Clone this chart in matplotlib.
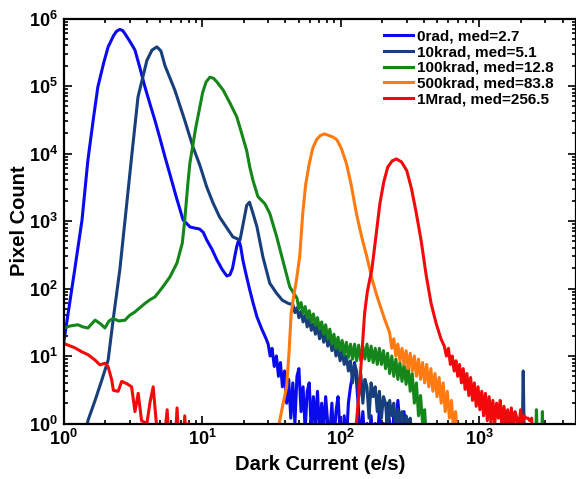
import numpy as np
import matplotlib
matplotlib.use("Agg")
import matplotlib.pyplot as plt

plt.rcParams['font.family'] = ['Liberation Sans', 'DejaVu Sans']
plt.rcParams['font.weight'] = 'bold'
plt.rcParams['mathtext.fontset'] = 'custom'
plt.rcParams['mathtext.rm'] = 'Liberation Sans:bold'
plt.rcParams['mathtext.bf'] = 'Liberation Sans:bold'
plt.rcParams['mathtext.it'] = 'Liberation Sans:bold'

# histogram bin centres used for the noisy tails (e/s)
tail_bins = [30, 31, 32, 33.2, 34.4, 35.6, 36.8, 38, 39.4, 40.8, 42.2, 43.7, 45.2, 46.8, 48.4,
             50, 51.8, 53.6, 55.5, 57.4, 59.4, 61.5, 63.6, 65.8, 68.1, 70.5, 73, 75.5, 78, 80.8,
             83.6, 86.5, 89.5, 92.6, 95.8, 99.2, 102.6, 106.2, 110, 113.8, 117.8, 121.9, 126.1,
             130.5, 135, 139.8, 144.7, 149.7, 155, 160.4, 166, 171.8, 177.8, 184, 190.5, 197,
             204, 211, 218.4, 226, 234, 242, 250.5, 259, 268, 277.5, 287, 297, 307.5, 318, 329,
             340.5, 352.5, 365, 377.5, 390.5, 404, 418, 433, 448, 463.5, 480, 496.5, 514, 532,
             550, 569, 589, 610, 631, 653, 676, 699.5]

# 0rad, med=2.7
x_0rad = [1.0, 1.1, 1.2, 1.3, 1.36, 1.5, 1.65, 1.77, 1.95, 2.1, 2.3, 2.42, 2.55, 2.68, 2.8, 3.05,
          3.28, 3.55, 3.87, 4.2, 4.57, 5.0, 5.4, 5.9, 6.5, 7.3, 8.2, 9.0, 9.6, 10.2, 10.8, 11.8,
          12.8, 14.0, 15.1, 15.9, 16.6, 17.2, 17.8, 18.4, 19.0, 19.7, 20.8, 22.1, 23.4, 24.9,
          27.0, 29.0] + tail_bins[0:71]
y_0rad = [15, 55, 180, 550, 1030, 8000, 3.5e4, 9.7e4, 2.2e5, 3.8e5, 5.6e5, 6.5e5, 6.9e5, 6.6e5, 5.8e5, 4.4e5,
          3.4e5, 1.9e5, 9.7e4, 5.5e4, 3.1e4, 1.6e4, 8900, 4700, 2300, 1035, 815, 780, 760, 680, 525, 380,
          265, 190, 153, 160, 200, 293, 420, 525, 420, 265, 160, 95, 60, 38,
          25, 18,
          15, 10, 13, 7, 10, 5, 8, 3.5, 6, 2,
          4.5, 1.2, 4, 1, 5, 6.5, 1.5, 3.5, 0.8, 3,
          4, 0.7, 2.5, 1, 3, 0.7, 2, 0.8, 2.5, 1,
          0.7, 2, 0.5, 1.5, 2.5, 0.7, 0.5, 1.3, 0.5, 2,
          3.5, 5, 8, 4, 1.5, 0.5, 1.5, 0.5, 1, 0.5,
          1.3, 0.5, 1, 0.5, 1.7, 0.5, 1, 0.5, 2, 1,
          0.5, 1.3, 1, 2.2, 1, 0.5, 1.5, 0.5, 1, 0.5, 0.5]

# 10krad, med=5.1
x_10k = [1.45, 1.5, 1.69, 1.89, 2.1, 2.28, 2.55, 2.78, 3.12, 3.45, 4.0, 4.35, 4.72, 5.05, 5.4,
         6.36, 7.5, 8.6, 9.64, 10.8, 12.0, 13.4, 15.1, 16.7, 18.8, 21.0, 22.0, 23.3, 24.9,
         27.5, 30.8, 34.5, 38, 42] + tail_bins[12:71] + [2040, 2080, 2120]
y_10k = [0.7, 1.1, 2.2, 4.4, 8.7, 34, 190, 1030, 1e4, 6.9e4, 2.4e5, 3.4e5, 3.8e5, 3.3e5, 2.0e5,
         8.7e4, 3.1e4, 1.25e4, 6700, 3200, 1850, 1140, 790, 580, 525, 1700, 1900, 1300, 820,
         293, 120, 85, 67, 60,
         58, 44, 52, 37, 46, 32, 40, 27, 35, 24,
         30, 21, 28, 18, 25, 16, 22, 14, 19, 12,
         16, 10, 13.5, 8.5, 12, 7.5, 10, 6, 8.5, 4,
         7.5, 6, 2.5, 5.5, 2, 4.5, 3.5, 1.2, 4, 2.5,
         3.5, 1.5, 3, 1.2, 2.5, 2, 0.8, 2.2, 1.3, 2,
         0.8, 1.6, 1.1, 1.5, 0.5, 1.3, 0.9, 1.2, 0.5,
         0.5, 6, 0.5]

# 100krad, med=12.8
x_100k = [1.0, 1.13, 1.27, 1.38, 1.5, 1.6, 1.69, 1.85, 1.99, 2.13, 2.28, 2.5, 2.78, 3.0, 3.28,
          3.56, 3.87, 4.2, 4.57, 5.2, 5.86, 6.6, 7.2, 7.5, 7.9, 8.17, 9.0, 9.64, 10.1, 10.7, 11.4,
          12.1, 12.8, 14.2, 15.9, 17.8, 19.3, 21, 22.1, 23.3, 25.3, 28.4, 30.8, 34.6, 38.2,
          43] + tail_bins[14:78] + [2550, 2590, 2640, 2820, 2860, 2900]
y_100k = [26, 28, 29, 27, 26, 30, 34, 30, 26, 33, 36, 33, 34, 40, 45,
          52, 60, 68, 75, 105, 148, 240, 470, 1030, 3600, 7200, 2.4e4, 4.9e4, 8.0e4, 1.15e5, 1.35e5,
          1.3e5, 1.15e5, 8.7e4, 5.6e4, 3.5e4, 2.0e4, 1.1e4, 6300, 4000, 2300, 1800, 1300, 580, 265,
          105,
          72, 50, 62, 43, 54, 37, 47, 32, 42, 29,
          37, 25, 32, 21, 29, 18, 25, 15, 21, 13,
          19, 12, 17, 10.5, 16, 9.5, 15, 9, 15, 8.5,
          14.5, 8.5, 14, 9, 15, 8.5, 14, 8, 13, 7.5,
          13, 7.5, 12, 6.5, 11, 5.5, 10, 5, 9, 4.5,
          8, 4.2, 7.5, 3.8, 7, 3, 5.5, 2, 4, 1.3,
          2.6, 1, 1.6, 0.5,
          0.5, 1.6, 0.5, 0.5, 1.5, 0.5]

# 500krad, med=83.8
x_500k = [33, 36, 38.5, 40.8, 42.5, 44, 46, 48, 50.7, 53.3, 56, 59.5, 63, 67, 71.5, 76.8, 82,
          88, 94, 101, 110, 119, 130, 142, 155, 170, 182, 195, 207, 218] + tail_bins[59:93]
y_500k = [0.5, 1.0, 2, 3.5, 12, 43, 80, 133, 300, 1300, 3500, 7200, 1.2e4, 1.6e4, 1.85e4, 1.95e4, 1.85e4,
          1.75e4, 1.6e4, 1.2e4, 7200, 3500, 1300, 580, 290, 130, 80, 52, 36, 27,
          22, 13, 18, 10, 15, 8.5, 13, 7.5, 12, 6.5,
          11, 6, 10, 5, 9, 4.5, 8, 4, 7.5, 3.5,
          6.5, 3, 5.5, 2.5, 4.8, 2, 4, 1.5, 3, 1.2,
          2.2, 0.8, 1.5, 0.5]

# 1Mrad, med=256.5
x_1M = [1.0, 1.21, 1.35, 1.51, 1.69, 1.83, 1.99, 2.1, 2.23, 2.29, 2.48, 2.63, 2.86, 3.1, 3.28,
        3.46, 3.66, 4.0, 4.2, 4.44, 4.6, 4.83, 5.3, 5.6, 5.8, 6.4, 6.6, 6.8, 7.3, 7.5, 7.7,
        8.0, 8.2,
        125, 130, 138, 144, 149, 156, 162, 168, 180, 192, 205, 219, 236, 253, 275, 300, 325,
        352, 382, 414, 450, 490, 530, 560,
        580, 600, 620, 640, 660, 680, 700, 722, 745, 768, 792, 816, 842, 868, 895, 923, 952,
        982, 1012, 1044, 1076, 1110, 1145, 1180, 1217, 1255, 1295, 1335, 1377, 1420, 1464,
        1510, 1557, 1606, 1656, 1708, 1761, 1816, 1873, 1931, 1991, 2053, 2117, 2183, 2251,
        2321, 2393, 2450]
y_1M = [15.4, 13.2, 11.6, 10.4, 8.7, 7.4, 7.8, 6.9, 4.4, 3.1, 3.0, 4.2, 3.9, 3.5, 1.5,
        2.8, 1.1, 1.0, 2.0, 3.5, 1.5, 0.5, 0.5, 1.6, 0.5, 0.5, 1.7, 0.5, 0.5, 1.3, 0.5,
        1.0, 0.5,
        0.5, 1, 4.4, 15, 43, 90, 133, 190, 600, 1800, 3800, 6300, 7800, 8300, 7500, 5600, 3000,
        1300, 500, 160, 60, 30, 18, 14,
        10, 13, 7.5, 10, 6, 8.5, 5, 7.5, 4, 6.5,
        3.2, 5.5, 2.6, 4.8, 2.2, 4, 1.8, 3.5, 1.6, 3,
        1.3, 2.8, 1.1, 2.5, 1, 2.2, 1, 2, 1.2, 2.2,
        0.8, 1.8, 1, 1.6, 0.8, 1.7, 0.7, 1.5, 1.2, 0.8,
        1.6, 1, 1.3, 1.2, 1.2, 1.1, 1.2, 0.5]

labels = ["0rad, med=2.7", "10krad, med=5.1", "100krad, med=12.8",
          "500krad, med=83.8", "1Mrad, med=256.5"]
colors = ["#0a0aee", "#173f7c", "#14861a", "#ff7a10", "#f20a0a"]

fig = plt.figure(figsize=(5.76, 4.79), dpi=100)
ax = fig.add_axes([63.5 / 576, 1 - 423.5 / 479, (576 - 63.5) / 576, (423.5 - 18.5) / 479])

series = [(x_0rad, y_0rad), (x_10k, y_10k), (x_100k, y_100k), (x_500k, y_500k), (x_1M, y_1M)]
for (xs, ys), lab, col in zip(series, labels, colors):
    ax.plot(xs, ys, color=col, lw=2.2, label=lab)

ax.set_xscale('log')
ax.set_yscale('log')
ax.set_xlim(1, 5000)
ax.set_ylim(1, 1e6)

ax.tick_params(which='both', direction='in', top=True, right=True, labelsize=13, width=1.2)
ax.tick_params(which='major', length=6, pad=4)
ax.tick_params(which='minor', length=3)
for s in ax.spines.values():
    s.set_linewidth(1.6)

ax.set_xlabel("Dark Current (e/s)", fontsize=14.5, fontweight='bold', labelpad=4)
ax.set_ylabel("Pixel Count", fontsize=14.5, fontweight='bold', labelpad=0)

leg = ax.legend(loc='upper left', bbox_to_anchor=(0.605, 1.0), frameon=False,
                fontsize=11, handlelength=1.9, handletextpad=0.25, labelspacing=0.12,
                borderaxespad=0.3)

fig.savefig("out.png", dpi=100)
